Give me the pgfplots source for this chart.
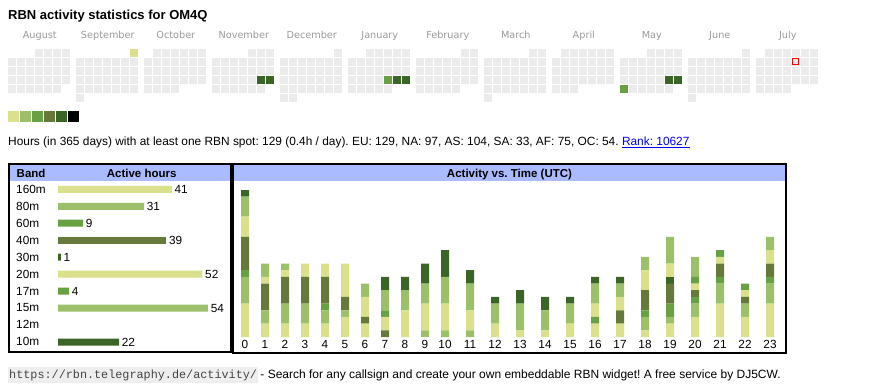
\documentclass[border=0pt]{standalone}
\usepackage{pgfplots}
\usepackage{pgfplotstable}
\pgfplotsset{compat=1.18}
\usepackage{fontspec}
\setmainfont{Liberation Sans}
\setmonofont{Liberation Mono}
\newfontfamily\dejavu{DejaVu Sans}
\definecolor{cA}{HTML}{DAE08B}
\definecolor{cB}{HTML}{9CC06A}
\definecolor{cC}{HTML}{68A044}
\definecolor{cD}{HTML}{66793A}
\definecolor{cE}{HTML}{3B6527}
\definecolor{calgrey}{HTML}{EBEBEB}
\definecolor{hdr}{HTML}{AABBFF}
\definecolor{monthgrey}{HTML}{9A9A9A}
\definecolor{linkblue}{HTML}{0000EE}
\definecolor{urlbg}{HTML}{EEEEEE}
\definecolor{urltext}{HTML}{444444}
\newcommand\fs[1]{\fontsize{#1}{#1}\selectfont}
\frenchspacing

% activity per UTC hour: x = bar position (px), columns = bands
\pgfplotstableread{
x b160 b80 b60 b40 b30 b20 b17 b15 b10
245 5 4 1 5 0 3 0 3 1
265 2 2 0 4 0 1 0 2 0
285 2 3 0 4 0 1 0 1 0
305 2 3 0 4 0 2 0 0 0
325 2 2 1 4 0 2 0 0 0
345 3 1 0 2 0 5 0 0 0
365 2 0 0 1 0 3 0 2 0
385 0 0 0 1 0 2 1 3 2
405 0 0 0 0 0 4 0 3 2
425 0 1 0 0 0 4 0 3 3
445 0 1 0 0 0 4 0 4 4
470 0 1 0 0 0 3 0 4 2
495 0 0 0 0 0 2 0 3 1
520 0 0 0 0 0 1 0 4 2
545 0 0 0 0 0 1 0 3 2
570 0 0 0 0 0 2 0 3 1
595 2 0 1 0 0 2 0 3 1
620 2 0 0 2 0 2 0 2 1
645 1 2 1 3 0 3 0 2 0
670 2 1 2 3 1 2 0 4 0
695 3 2 1 1 0 1 1 3 0
720 5 3 1 2 0 1 1 0 0
745 3 2 0 1 0 1 1 0 0
770 5 3 1 2 0 2 0 2 0
}\acttable

\pgfplotsset{
  cell/.style={only marks, mark=square*, mark size=3.2pt, mark options={draw=#1, fill=#1, line width=0.1pt}},
  key/.style={only marks, mark=square*, mark size=4.7pt, mark options={draw=#1, fill=#1, line width=0.1pt}}
}
\newcommand\plotcal[1]{\addplot[cell=calgrey] coordinates {#1};}

\begin{document}
\begin{tikzpicture}[x=1pt,y=-1pt]
\useasboundingbox (0,0) rectangle (870,390);

% calendar cells: month / week row / first col / last col
\gdef\calcoords{}
\foreach \m/\r/\ca/\cb in {
 0/0/3/6, 0/1/0/6, 0/2/0/6, 0/3/0/6, 0/4/0/5,
 1/0/6/6, 1/1/0/6, 1/2/0/6, 1/3/0/6, 1/4/0/6, 1/5/0/0,
 2/0/1/6, 2/1/0/6, 2/2/0/6, 2/3/0/6, 2/4/0/3,
 3/0/4/6, 3/1/0/6, 3/2/0/6, 3/3/0/6, 3/4/0/5,
 4/0/6/6, 4/1/0/6, 4/2/0/6, 4/3/0/6, 4/4/0/6, 4/5/0/1,
 5/0/2/6, 5/1/0/6, 5/2/0/6, 5/3/0/6, 5/4/0/4,
 6/0/5/6, 6/1/0/6, 6/2/0/6, 6/3/0/6, 6/4/0/4,
 7/0/5/6, 7/1/0/6, 7/2/0/6, 7/3/0/6, 7/4/0/6, 7/5/0/0,
 8/0/1/6, 8/1/0/6, 8/2/0/6, 8/3/0/6, 8/4/0/2,
 9/0/3/6, 9/1/0/6, 9/2/0/6, 9/3/0/6, 9/4/0/5,
 10/0/6/6, 10/1/0/6, 10/2/0/6, 10/3/0/6, 10/4/0/6, 10/5/0/0,
 11/0/1/6, 11/1/0/6, 11/2/0/6, 11/3/0/6, 11/4/0/3}{%
  \foreach \c in {\ca,...,\cb}{%
    \pgfmathsetmacro\xx{8.3+68*\m+9*\c+3.25}%
    \pgfmathsetmacro\yy{52.55+9*\r}%
    \xdef\calcoords{\calcoords (\xx,\yy)}%
  }%
}

% title
\node[anchor=base west, inner sep=0pt, font=\bfseries\fs{13}] at (8,20) {RBN activity statistics for OM4Q};

% month labels
\foreach \name [count=\i from 0] in {August,September,October,November,December,January,February,March,April,May,June,July}{
  \node[anchor=base, inner sep=0pt, font=\dejavu\fs{9.7}, text=monthgrey] at ({39.8+68*\i},38.5) {\name};
}

\begin{axis}[at={(0pt,0pt)}, anchor=north west, width=870pt, height=130pt, scale only axis,
  xmin=0, xmax=870, ymin=0, ymax=130, y dir=reverse, hide axis, clip=false]
  \expandafter\plotcal\expandafter{\calcoords}
  \addplot[cell=cA] coordinates {(133.55,52.55)};
  \addplot[cell=cC] coordinates {(387.55,79.55) (623.55,88.55)};
  \addplot[cell=cE] coordinates {(260.55,79.55) (269.55,79.55) (396.55,79.55) (405.55,79.55) (668.55,79.55) (677.55,79.55)};
  \addplot[only marks, mark=square*, mark size=3pt, mark options={draw=red, fill=calgrey, line width=0.9pt}] coordinates {(795.55,61.55)};
  % colour scale
  \addplot[key=cA] coordinates {(13.1,115.9)};
  \addplot[key=cB] coordinates {(25.1,115.9)};
  \addplot[key=cC] coordinates {(37.1,115.9)};
  \addplot[key=cD] coordinates {(49.1,115.9)};
  \addplot[key=cE] coordinates {(61.1,115.9)};
  \addplot[key=black] coordinates {(73.1,115.9)};
\end{axis}

% summary line
\node[anchor=base west, inner sep=0pt, font=\fs{11.9}] at (8,145.5) {Hours (in 365 days) with at least one RBN spot: 129 (0.4h / day). EU: 129, NA: 97, AS: 104, SA: 33, AF: 75, OC: 54. \textcolor{linkblue}{\underline{Rank: 10627}}};

% panels
\fill[hdr] (10,165.3) rectangle (230.2,180.6);
\fill[hdr] (234,165.3) rectangle (785.2,180.6);
\draw[line width=2pt] (9,164.3) rectangle (231.2,351.7);
\draw[line width=2pt] (233,164.3) rectangle (786.2,353.3);
\node[anchor=base west, inner sep=0pt, font=\bfseries\fs{11.5}] at (16.5,177.1) {Band};
\node[anchor=base, inner sep=0pt, font=\bfseries\fs{11.5}] at (141.7,177.1) {Active hours};
\node[anchor=base, inner sep=0pt, font=\bfseries\fs{11.5}] at (509.5,177.1) {Activity vs. Time (UTC)};

\foreach \b [count=\i from 0] in {160m,80m,60m,40m,30m,20m,17m,15m,12m,10m}{
  \node[anchor=base west, inner sep=0pt, font=\fs{11.8}] at (16,{193.2+16.97*\i}) {\b};
}

% band bars
\begin{axis}[at={(58pt,-189.3pt)}, anchor=north west, width=150pt, height=152.73pt, scale only axis,
  xmin=0, xmax=54, ymin=0, ymax=9, y dir=reverse, hide axis, clip=false,
  /pgf/number format/assume math mode=true,
  nodes near coords,
  nodes near coords style={font=\fs{11.8}, anchor=west, inner sep=0pt, xshift=2.6pt, text=black},
  every axis plot/.append style={xbar, bar width=7pt, bar shift=0pt, draw=none, point meta=x}]
  \addplot[fill=cA] coordinates {(41,0) (52,5)};
  \addplot[fill=cB] coordinates {(31,1) (54,7)};
  \addplot[fill=cC] coordinates {(9,2) (4,6)};
  \addplot[fill=cD] coordinates {(39,3)};
  \addplot[fill=cE] coordinates {(1,4) (22,9)};
\end{axis}

% activity vs time
\begin{axis}[at={(232.5pt,-337pt)}, anchor=south west, width=552.5pt, height=147pt, scale only axis,
  xmin=232.5, xmax=785, ymin=0, ymax=22, ybar stacked, bar width=8pt,
  axis line style={draw=none}, tick style={draw=none}, major tick length=0pt,
  ytick=\empty,
  xtick={245,265,285,305,325,345,365,385,405,425,445,470,495,520,545,570,595,620,645,670,695,720,745,770},
  xticklabels={0,1,2,3,4,5,6,7,8,9,10,11,12,13,14,15,16,17,18,19,20,21,22,23},
  xticklabel style={font=\fs{11.8}, text=black},
  clip=false]
  \addplot[fill=cA, draw=none] table[x=x, y=b160] {\acttable};
  \addplot[fill=cB, draw=none] table[x=x, y=b80] {\acttable};
  \addplot[fill=cC, draw=none] table[x=x, y=b60] {\acttable};
  \addplot[fill=cD, draw=none] table[x=x, y=b40] {\acttable};
  \addplot[fill=cE, draw=none] table[x=x, y=b30] {\acttable};
  \addplot[fill=cA, draw=none] table[x=x, y=b20] {\acttable};
  \addplot[fill=cC, draw=none] table[x=x, y=b17] {\acttable};
  \addplot[fill=cB, draw=none] table[x=x, y=b15] {\acttable};
  \addplot[fill=cE, draw=none] table[x=x, y=b10] {\acttable};
\end{axis}

% footer
\node[anchor=base west, fill=urlbg, text=urltext, font=\ttfamily\fs{11.8}, inner xsep=1pt, inner ysep=2.5pt] (url) at (8,378) {https://rbn.telegraphy.de/activity/};
\node[anchor=base west, inner sep=0pt, font=\fs{12}] at ([xshift=2pt]url.base east) { - Search for any callsign and create your own embeddable RBN widget! A free service by DJ5CW.};
\end{tikzpicture}
\end{document}
